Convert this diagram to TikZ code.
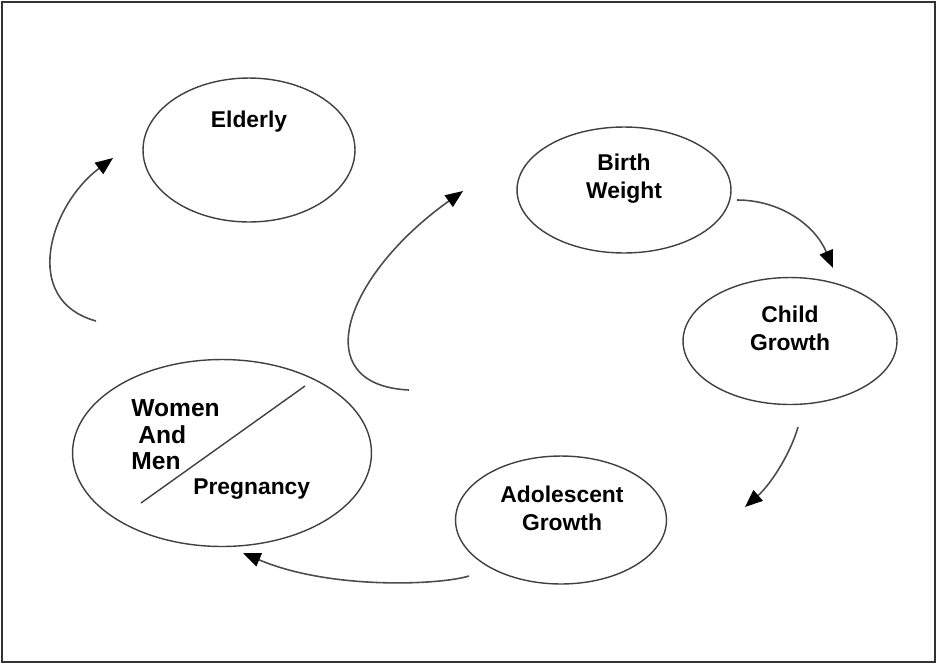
\documentclass[tikz,border=0pt]{standalone}
\usepackage{fontspec}
\setmainfont{Liberation Sans}
\usetikzlibrary{shapes.geometric,arrows.meta,calc}

\begin{document}
\begin{tikzpicture}[
    x=0.02cm, y=-0.02cm,
    oval/.style={ellipse, draw=black!75, line width=0.8pt, inner sep=0pt},
    tag/.style={font=\fontsize{13}{16}\selectfont\bfseries, align=center, inner sep=0pt},
    arrow/.style={draw=black!70, line width=0.9pt, -{Triangle[length=10pt,width=8pt,color=black]}}
]
    \useasboundingbox (0,0) rectangle (937,664);
    \draw[black!80, line width=0.8pt] (2,2) rectangle (935,662);

    % stages of the cycle
    \node[oval, minimum width=4.24cm, minimum height=2.88cm] (elderly) at (249,150) {};
    \node[oval, minimum width=4.28cm, minimum height=2.52cm] (birth) at (624,190) {};
    \node[oval, minimum width=4.28cm, minimum height=2.54cm] (child) at (790,341) {};
    \node[oval, minimum width=4.22cm, minimum height=2.56cm] (adol) at (561,520) {};
    \node[oval, minimum width=5.98cm, minimum height=3.74cm] (women) at (222,453) {};

    \node[tag] (elderlytxt) at ($(elderly.center)+(0,-28)$) {Elderly};
    \node[tag] (birthtxt) at ($(birth.center)+(0,-11)$) {Birth\\Weight};
    \node[tag] (childtxt) at ($(child.center)+(0,-13)$) {Child\\Growth};
    \node[tag] (adoltxt) at ($(adol.center)+(1,-12)$) {Adolescent\\Growth};
    \node[tag, align=left, anchor=west, font=\fontsize{14}{15}\selectfont\bfseries] (mentxt) at (131,435) {Women\\\hspace{4pt}And\\Men};
    \node[tag, anchor=west] (pregtxt) at (193,489) {Pregnancy};

    % divider in the first stage
    \coordinate (divlow) at (141,503);
    \coordinate (divhigh) at (305,386);
    \draw[black!75, line width=0.8pt] (divlow) -- (divhigh);

    % free ends of the arrows
    \coordinate (a1) at (96,321);  \coordinate (b1) at (113,158);
    \coordinate (a2) at (409,390); \coordinate (b2) at (463,191);
    \coordinate (a3) at (737,200); \coordinate (b3) at (833,268);
    \coordinate (a4) at (798,427); \coordinate (b4) at (745,507);
    \coordinate (a5) at (469,576); \coordinate (b5) at (243,553);

    \draw[arrow] (a1) .. controls (20,300) and (50,205) .. (b1);
    \draw[arrow] (a2) .. controls (305,385) and (345,275) .. (b2);
    \draw[arrow] (a3) .. controls (780,200) and (815,225) .. (b3);
    \draw[arrow] (a4) .. controls (790,455) and (770,485) .. (b4);
    \draw[arrow] (a5) .. controls (440,585) and (330,590) .. (b5);
\end{tikzpicture}
\end{document}
